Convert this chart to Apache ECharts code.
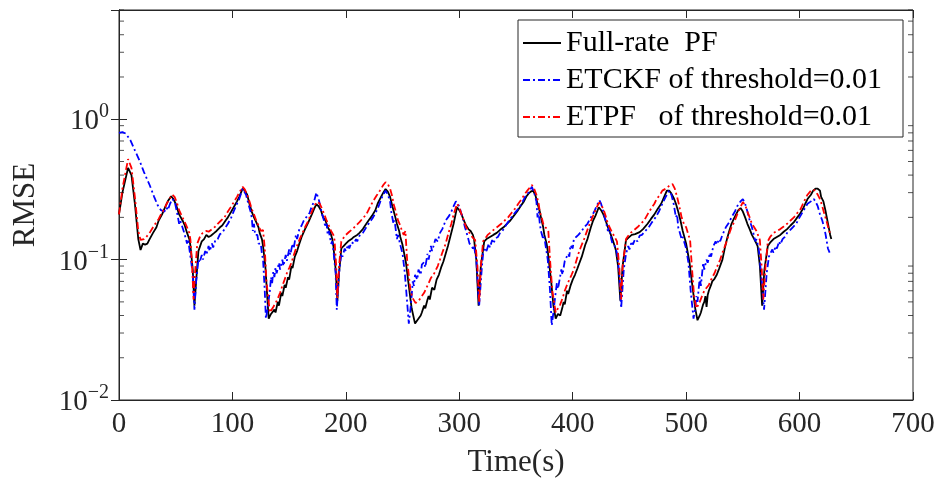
<!DOCTYPE html>
<html>
<head>
<meta charset="utf-8">
<script src="https://cdn.jsdelivr.net/npm/echarts@6/dist/echarts.min.js"></script>
<style>html,body{margin:0;padding:0;background:#fff;}#c{width:937px;height:480px;}</style>
</head>
<body>
<div id="c"></div>
<script>
// ---- data (time in s, RMSE) ----
const fullRatePF = [[0,0.21],[3,0.30],[8,0.45],[11,0.40],[14,0.25],[17,0.14],[19,0.117],[21,0.13],[23,0.128],[25,0.13],[27,0.14],[30,0.155],[33,0.17],[35,0.19],[38,0.21],[40,0.23],[43,0.26],[46,0.283],[48,0.27],[50,0.25],[53,0.21],[56,0.19],[58,0.175],[60,0.155],[62,0.14],[63,0.125],[65,0.085],[66.5,0.047],[68,0.07],[70,0.115],[73,0.135],[75,0.14],[77,0.15],[79,0.145],[81,0.148],[84,0.155],[86,0.16],[89,0.17],[91,0.175],[94,0.19],[96,0.2],[99,0.22],[101,0.235],[104,0.26],[106,0.28],[109,0.32],[111,0.31],[113,0.29],[115,0.25],[117,0.22],[119,0.2],[121,0.185],[123,0.17],[124,0.155],[126,0.14],[127,0.125],[129,0.09],[131,0.05],[132,0.038],[134,0.041],[135,0.04],[137,0.044],[138,0.042],[140,0.05],[141,0.047],[143,0.058],[144,0.055],[146,0.066],[147,0.063],[149,0.075],[150,0.072],[152,0.09],[153,0.087],[155,0.105],[157,0.115],[159,0.13],[161,0.145],[164,0.165],[167,0.185],[170,0.21],[172,0.23],[174,0.248],[176,0.24],[178,0.225],[180,0.2],[182,0.19],[184,0.17],[186,0.16],[188,0.14],[189,0.125],[191,0.085],[192.5,0.051],[194,0.08],[196,0.12],[198,0.125],[200,0.13],[202,0.135],[205,0.14],[207,0.145],[210,0.15],[212,0.155],[215,0.165],[217,0.175],[220,0.19],[223,0.205],[226,0.225],[228,0.25],[231,0.28],[233,0.3],[235,0.318],[237,0.305],[239,0.28],[241,0.24],[243,0.21],[245,0.18],[247,0.16],[248,0.145],[250,0.127],[253,0.095],[255,0.07],[258,0.045],[261,0.035],[263,0.037],[264,0.036],[266,0.04],[267,0.042],[269,0.047],[270,0.045],[272,0.052],[273,0.055],[274,0.052],[276,0.063],[278,0.061],[280,0.072],[282,0.078],[284,0.088],[286,0.097],[288,0.11],[290,0.125],[292,0.145],[295,0.18],[298,0.236],[300,0.225],[302,0.21],[304,0.19],[306,0.175],[308,0.165],[310,0.16],[312,0.15],[313,0.14],[315,0.1],[317,0.047],[319,0.09],[322,0.135],[324,0.14],[327,0.145],[330,0.15],[333,0.155],[336,0.163],[339,0.17],[342,0.18],[345,0.19],[348,0.205],[351,0.22],[354,0.24],[357,0.26],[359,0.28],[361,0.295],[363,0.305],[365,0.31],[367,0.29],[369,0.25],[371,0.22],[372,0.2],[374,0.17],[375,0.15],[377,0.13],[378,0.115],[381,0.07],[383,0.047],[385,0.038],[387,0.041],[389,0.04],[391,0.046],[392,0.05],[393,0.048],[395,0.06],[396,0.057],[398,0.065],[400,0.072],[402,0.078],[404,0.086],[406,0.095],[408,0.105],[411,0.127],[413,0.14],[416,0.17],[418,0.19],[420,0.205],[423,0.236],[425,0.225],[427,0.21],[429,0.19],[431,0.17],[433,0.155],[435,0.14],[437,0.125],[438,0.117],[440,0.09],[442,0.051],[444,0.09],[447,0.138],[449,0.143],[452,0.15],[455,0.152],[459,0.157],[462,0.165],[466,0.18],[469,0.195],[472,0.21],[475,0.23],[478,0.25],[481,0.285],[483,0.31],[485,0.31],[487,0.295],[489,0.275],[491,0.25],[493,0.22],[495,0.19],[497,0.16],[500,0.13],[503,0.095],[505,0.07],[508,0.045],[510,0.037],[512,0.04],[513,0.042],[515,0.048],[516,0.05],[517,0.055],[518,0.046],[519,0.056],[520,0.06],[522,0.066],[523,0.07],[525,0.073],[527,0.078],[529,0.086],[532,0.1],[534,0.12],[536,0.14],[538,0.16],[540,0.18],[542,0.195],[544,0.21],[546,0.225],[548,0.233],[550,0.22],[552,0.2],[554,0.18],[556,0.165],[558,0.15],[560,0.14],[562,0.13],[563,0.125],[565,0.09],[567,0.047],[569,0.085],[572,0.125],[574,0.132],[577,0.14],[580,0.145],[583,0.15],[586,0.158],[589,0.165],[592,0.175],[595,0.185],[597,0.195],[600,0.21],[603,0.23],[605,0.25],[607,0.27],[610,0.29],[612,0.31],[614,0.32],[616,0.32],[618,0.31],[619,0.28],[621,0.26],[623,0.22],[624,0.2],[626,0.165],[627,0.15],[628,0.14]];

const etckf = [[0,0.8],[3,0.81],[6,0.79],[10,0.71],[14,0.6],[18,0.51],[22,0.42],[27,0.34],[31,0.28],[34,0.245],[37,0.225],[40,0.22],[42,0.235],[43,0.225],[45,0.25],[47,0.27],[49,0.26],[50,0.24],[52,0.2],[53,0.18],[54,0.19],[57,0.16],[58,0.15],[59,0.14],[60,0.13],[61,0.14],[62,0.12],[63,0.117],[65,0.08],[66.5,0.044],[68,0.07],[70,0.1],[71,0.095],[73,0.108],[74,0.1],[76,0.115],[77,0.108],[79,0.125],[80,0.115],[82,0.13],[83,0.122],[85,0.138],[87,0.14],[89,0.152],[91,0.155],[94,0.17],[96,0.18],[99,0.2],[101,0.22],[104,0.25],[106,0.27],[109,0.32],[112,0.29],[114,0.25],[116,0.22],[117,0.2],[118,0.16],[119,0.18],[120,0.15],[122,0.15],[123,0.13],[125,0.13],[126,0.11],[127,0.1],[128.5,0.06],[129.5,0.038],[131,0.045],[133,0.06],[134,0.075],[135,0.068],[136,0.082],[137,0.075],[138,0.088],[139,0.08],[141,0.095],[142,0.085],[144,0.1],[145,0.09],[147,0.108],[148,0.098],[150,0.118],[151,0.108],[153,0.13],[154,0.12],[156,0.15],[157,0.14],[159,0.165],[161,0.175],[163,0.19],[165,0.2],[168,0.215],[170,0.24],[172,0.26],[174,0.3],[176,0.27],[177,0.25],[179,0.21],[180,0.2],[182,0.17],[183,0.18],[184,0.15],[185,0.16],[187,0.13],[188,0.135],[189,0.117],[191,0.08],[192,0.044],[194,0.08],[196,0.11],[197,0.105],[199,0.12],[200,0.115],[202,0.128],[203,0.12],[205,0.133],[207,0.13],[209,0.14],[210,0.135],[212,0.148],[215,0.155],[218,0.17],[221,0.185],[224,0.2],[228,0.23],[232,0.28],[235,0.31],[237,0.29],[239,0.26],[240,0.22],[242,0.18],[243,0.19],[245,0.14],[246,0.15],[248,0.127],[250,0.11],[252,0.08],[254,0.05],[255.5,0.035],[257,0.045],[258,0.055],[259,0.07],[260,0.065],[261,0.078],[263,0.072],[264,0.085],[266,0.078],[267,0.092],[269,0.096],[270,0.088],[272,0.11],[273,0.1],[275,0.125],[276,0.115],[279,0.14],[281,0.135],[283,0.155],[285,0.165],[288,0.19],[291,0.205],[293,0.22],[295,0.24],[297,0.26],[300,0.24],[302,0.21],[303,0.2],[305,0.17],[306,0.16],[308,0.14],[309,0.13],[311,0.125],[312,0.12],[313,0.125],[315,0.1],[317.5,0.047],[320,0.09],[321,0.11],[323,0.12],[324,0.115],[326,0.13],[327,0.122],[329,0.138],[330,0.13],[332,0.142],[334,0.145],[336,0.155],[338,0.16],[340,0.17],[343,0.185],[346,0.2],[349,0.215],[353,0.235],[356,0.26],[358,0.28],[361,0.3],[364,0.33],[366,0.3],[368,0.26],[369,0.2],[370,0.22],[371,0.18],[372,0.16],[374,0.14],[375,0.145],[376,0.127],[378,0.1],[380,0.06],[381.5,0.034],[383,0.042],[384,0.05],[386,0.068],[387,0.062],[390,0.085],[391,0.078],[393,0.098],[394,0.1],[396,0.11],[397,0.105],[398,0.127],[400,0.12],[401,0.14],[403,0.145],[405,0.15],[408,0.16],[410,0.17],[413,0.18],[416,0.2],[419,0.22],[421,0.24],[423.5,0.265],[425,0.25],[427,0.22],[429,0.19],[431,0.16],[432,0.17],[434,0.14],[435,0.13],[437,0.125],[439,0.112],[441,0.08],[442.7,0.045],[445,0.085],[447,0.11],[449,0.125],[450,0.118],[452,0.135],[453,0.128],[455,0.14],[457,0.135],[459,0.148],[461,0.15],[464,0.16],[467,0.17],[470,0.185],[473,0.2],[476,0.22],[479,0.25],[482,0.28],[485,0.31],[487,0.29],[489,0.25],[491,0.2],[492,0.21],[493,0.17],[494,0.16],[496,0.14],[497,0.145],[500,0.12],[502,0.095],[504,0.06],[506.5,0.038],[508,0.045],[509,0.055],[510,0.05],[512,0.075],[513,0.065],[515,0.095],[516,0.085],[518,0.1],[519,0.095],[521,0.112],[522,0.105],[524,0.125],[526,0.135],[527,0.128],[529,0.14],[530,0.135],[532,0.15],[535,0.17],[538,0.185],[540,0.2],[543,0.22],[545,0.24],[548,0.26],[550,0.27],[552,0.25],[554,0.22],[556,0.19],[558,0.17],[559,0.175],[561,0.135],[562,0.14],[564,0.12],[566,0.08],[568.7,0.044],[571,0.08],[573,0.105],[574,0.11],[576,0.118],[577,0.112],[579,0.125],[580,0.12],[582,0.135],[583,0.128],[585,0.14],[587,0.145],[589,0.155],[591,0.16],[594,0.17],[597,0.18],[600,0.2],[603,0.22],[605,0.235],[607,0.25],[610,0.26],[612.5,0.27],[614,0.26],[616,0.24],[618,0.21],[620,0.19],[622,0.165],[623,0.15],[625,0.12],[626.5,0.112]];

const etpf = [[0,0.21],[3,0.32],[8,0.52],[11,0.45],[14,0.28],[17,0.16],[19,0.138],[22,0.14],[24,0.145],[27,0.155],[30,0.17],[32,0.18],[35,0.195],[37,0.21],[40,0.23],[42,0.25],[45,0.275],[47,0.29],[49,0.28],[51,0.255],[53,0.225],[56,0.2],[58,0.185],[60,0.17],[62,0.155],[63,0.138],[64.5,0.09],[65.7,0.052],[67,0.08],[69,0.13],[72,0.15],[74,0.155],[77,0.16],[79,0.158],[82,0.165],[85,0.172],[87,0.18],[90,0.19],[93,0.2],[96,0.22],[99,0.24],[101,0.255],[104,0.28],[107,0.31],[109,0.33],[111,0.315],[113,0.29],[115,0.26],[117,0.23],[119,0.21],[121,0.19],[123,0.175],[125,0.16],[127,0.162],[128.5,0.12],[130,0.07],[133,0.042],[136,0.046],[138,0.049],[140,0.053],[142,0.058],[144,0.065],[146,0.072],[148,0.08],[150,0.087],[152,0.095],[154,0.107],[156,0.12],[159,0.138],[161,0.15],[164,0.17],[167,0.19],[169,0.21],[171,0.23],[173,0.248],[175,0.258],[177,0.25],[179,0.23],[181,0.21],[183,0.19],[185,0.175],[187,0.16],[189,0.15],[190,0.138],[191.5,0.09],[192.5,0.053],[194,0.09],[196,0.135],[198,0.143],[200,0.15],[203,0.158],[206,0.165],[209,0.175],[212,0.185],[215,0.197],[218,0.21],[221,0.235],[224,0.26],[227,0.285],[230,0.31],[233,0.34],[235,0.356],[237,0.345],[239,0.32],[241,0.28],[242,0.25],[244,0.22],[246,0.19],[248,0.175],[249,0.165],[251,0.15],[252.5,0.16],[254,0.1],[257,0.06],[259,0.053],[261.5,0.049],[263,0.05],[265,0.052],[267,0.055],[269,0.058],[271,0.063],[273,0.068],[275,0.074],[278,0.08],[281,0.09],[283,0.1],[285,0.112],[288,0.13],[290,0.15],[293,0.18],[295,0.21],[298,0.25],[300,0.235],[302,0.21],[304,0.19],[306,0.17],[308,0.16],[310,0.15],[312,0.143],[314,0.138],[316,0.09],[317.6,0.049],[319,0.09],[321,0.135],[323,0.142],[325,0.15],[328,0.157],[331,0.165],[334,0.172],[337,0.18],[340,0.19],[343,0.2],[346,0.215],[349,0.23],[352,0.25],[355,0.27],[358,0.295],[360,0.31],[362,0.325],[364,0.34],[366,0.32],[368,0.29],[370,0.25],[371,0.22],[373,0.195],[374,0.18],[376,0.17],[377,0.165],[378.5,0.16],[380,0.1],[382,0.06],[385,0.042],[387,0.045],[389,0.048],[391,0.053],[393,0.06],[395,0.066],[397,0.072],[399,0.078],[401,0.085],[403,0.097],[405,0.11],[407,0.122],[410,0.14],[412,0.155],[415,0.18],[417,0.197],[419,0.215],[421,0.235],[423.5,0.255],[425,0.245],[427,0.23],[429,0.205],[431,0.18],[433,0.167],[435,0.155],[437,0.145],[439,0.135],[441,0.09],[442.7,0.052],[444,0.09],[447,0.14],[449,0.148],[451,0.155],[454,0.162],[457,0.17],[460,0.18],[463,0.19],[466,0.21],[469,0.23],[472,0.25],[474,0.27],[477,0.29],[479,0.31],[482,0.32],[484,0.33],[486,0.34],[488,0.345],[490,0.32],[492,0.28],[494,0.24],[496,0.2],[498,0.18],[500,0.17],[502,0.15],[503.5,0.138],[505,0.09],[507,0.055],[509,0.045],[511,0.048],[512,0.05],[514,0.055],[516,0.06],[518,0.063],[520,0.066],[522,0.072],[525,0.08],[527,0.088],[530,0.1],[532,0.112],[535,0.13],[537,0.145],[540,0.17],[543,0.19],[545,0.21],[548,0.237],[550,0.257],[552,0.245],[554,0.22],[556,0.2],[558,0.18],[560,0.17],[562,0.16],[565,0.138],[566.5,0.09],[568,0.052],[570,0.09],[572,0.135],[574,0.145],[577,0.155],[580,0.16],[583,0.165],[586,0.172],[589,0.18],[592,0.19],[595,0.2],[598,0.215],[601,0.23],[603,0.25],[605,0.27],[607,0.29],[610,0.31],[612,0.315],[614,0.31],[616,0.29],[618,0.27],[620,0.24],[622,0.21],[624,0.185],[626,0.16],[628,0.149]];

const seriesNames = ['Full-rate  PF', 'ETCKF of threshold=0.01', 'ETPF   of threshold=0.01'];
const xMin = 0, xMax = 700, xStep = 100;
const yMin = 0.01, yMax = 6;
const yMinorTicks = [0.02,0.03,0.04,0.05,0.06,0.07,0.08,0.09,0.2,0.3,0.4,0.5,0.6,0.7,0.8,0.9,2,3,4,5,6];

// ---- chart ----
const FONT = 'Liberation Serif';
const AX = '#262626';
const chart = echarts.init(document.getElementById('c'), null, {renderer: 'canvas'});

function logLabel(v) {
  const e = Math.log10(v);
  const r = Math.round(e);
  if (Math.abs(e - r) > 1e-6) return '';
  const exp = r < 0 ? '\u2212' + (-r) : String(r);
  return '{b|10}{s|' + exp + '}';
}
const richLbl = {
  b: {fontFamily: FONT, fontSize: 29, color: AX, verticalAlign: 'bottom', lineHeight: 34},
  s: {fontFamily: FONT, fontSize: 20, color: AX, verticalAlign: 'top', lineHeight: 34}
};

const minorLeft = yMinorTicks.map(v => [xMin, v]);
const minorRight = yMinorTicks.map(v => [xMax, v]);
const dashDot = [7, 3, 2, 3];

chart.setOption({
  animation: false,
  backgroundColor: '#fff',
  grid: {left: 119, right: 24, top: 10, bottom: 80, show: true, borderColor: AX, borderWidth: 1, outerBoundsMode: 'none'},
  legend: {
    orient: 'vertical', left: 518, top: 20,
    padding: [8, 10, 5, 4], itemGap: 7, itemWidth: 38, itemHeight: 14,
    backgroundColor: '#fff', borderColor: AX, borderWidth: 1, borderRadius: 0,
    data: seriesNames,
    itemStyle: {opacity: 0},
    textStyle: {fontFamily: FONT, fontSize: 30, color: '#000', lineHeight: 30, width: 327}
  },
  xAxis: [{
    type: 'value', min: xMin, max: xMax, interval: xStep,
    name: 'Time(s)', nameLocation: 'middle', nameGap: 47,
    nameTextStyle: {fontFamily: FONT, fontSize: 31, color: AX},
    axisLine: {show: true, lineStyle: {color: AX, width: 1}},
    axisTick: {show: true, inside: true, length: 8, lineStyle: {color: AX}},
    axisLabel: {fontFamily: FONT, fontSize: 29, color: AX, margin: 10},
    splitLine: {show: false}
  }, {
    type: 'value', min: xMin, max: xMax, interval: xStep, position: 'top',
    axisLine: {show: true, lineStyle: {color: AX, width: 1}},
    axisTick: {show: true, inside: true, length: 8, lineStyle: {color: AX}},
    axisLabel: {show: false}, splitLine: {show: false}
  }],
  yAxis: [{
    type: 'log', logBase: 10, min: yMin, max: yMax,
    name: 'RMSE', nameLocation: 'middle', nameGap: 78, nameRotate: 90,
    nameTextStyle: {fontFamily: FONT, fontSize: 31, color: AX},
    axisLine: {show: true, lineStyle: {color: AX, width: 1}},
    axisTick: {show: true, inside: true, length: 8, lineStyle: {color: AX}},
    axisLabel: {formatter: logLabel, rich: richLbl, margin: 10},
    splitLine: {show: false}, minorTick: {show: false}
  }, {
    type: 'log', logBase: 10, min: yMin, max: yMax, position: 'right',
    axisLine: {show: true, lineStyle: {color: AX, width: 1}},
    axisTick: {show: true, inside: true, length: 8, lineStyle: {color: AX}},
    axisLabel: {show: false}, splitLine: {show: false}
  }],
  series: [
    {name: seriesNames[0], type: 'line', data: fullRatePF, symbol: 'none', z: 3,
     lineStyle: {color: '#000', width: 1.8, type: 'solid'}, itemStyle: {color: '#000'}},
    {name: seriesNames[1], type: 'line', data: etckf, symbol: 'none', z: 4,
     lineStyle: {color: '#0000ff', width: 1.8, type: dashDot}, itemStyle: {color: '#0000ff'}},
    {name: seriesNames[2], type: 'line', data: etpf, symbol: 'none', z: 5,
     lineStyle: {color: '#ff0000', width: 1.8, type: dashDot}, itemStyle: {color: '#ff0000'}},
    {type: 'scatter', data: minorLeft, symbol: 'rect', symbolSize: [5, 1], symbolOffset: [2.5, 0],
     itemStyle: {color: AX}, silent: true, clip: false, z: 1},
    {type: 'scatter', data: minorRight, symbol: 'rect', symbolSize: [5, 1], symbolOffset: [-2.5, 0],
     itemStyle: {color: AX}, silent: true, clip: false, z: 1}
  ]
});
</script>
</body>
</html>
